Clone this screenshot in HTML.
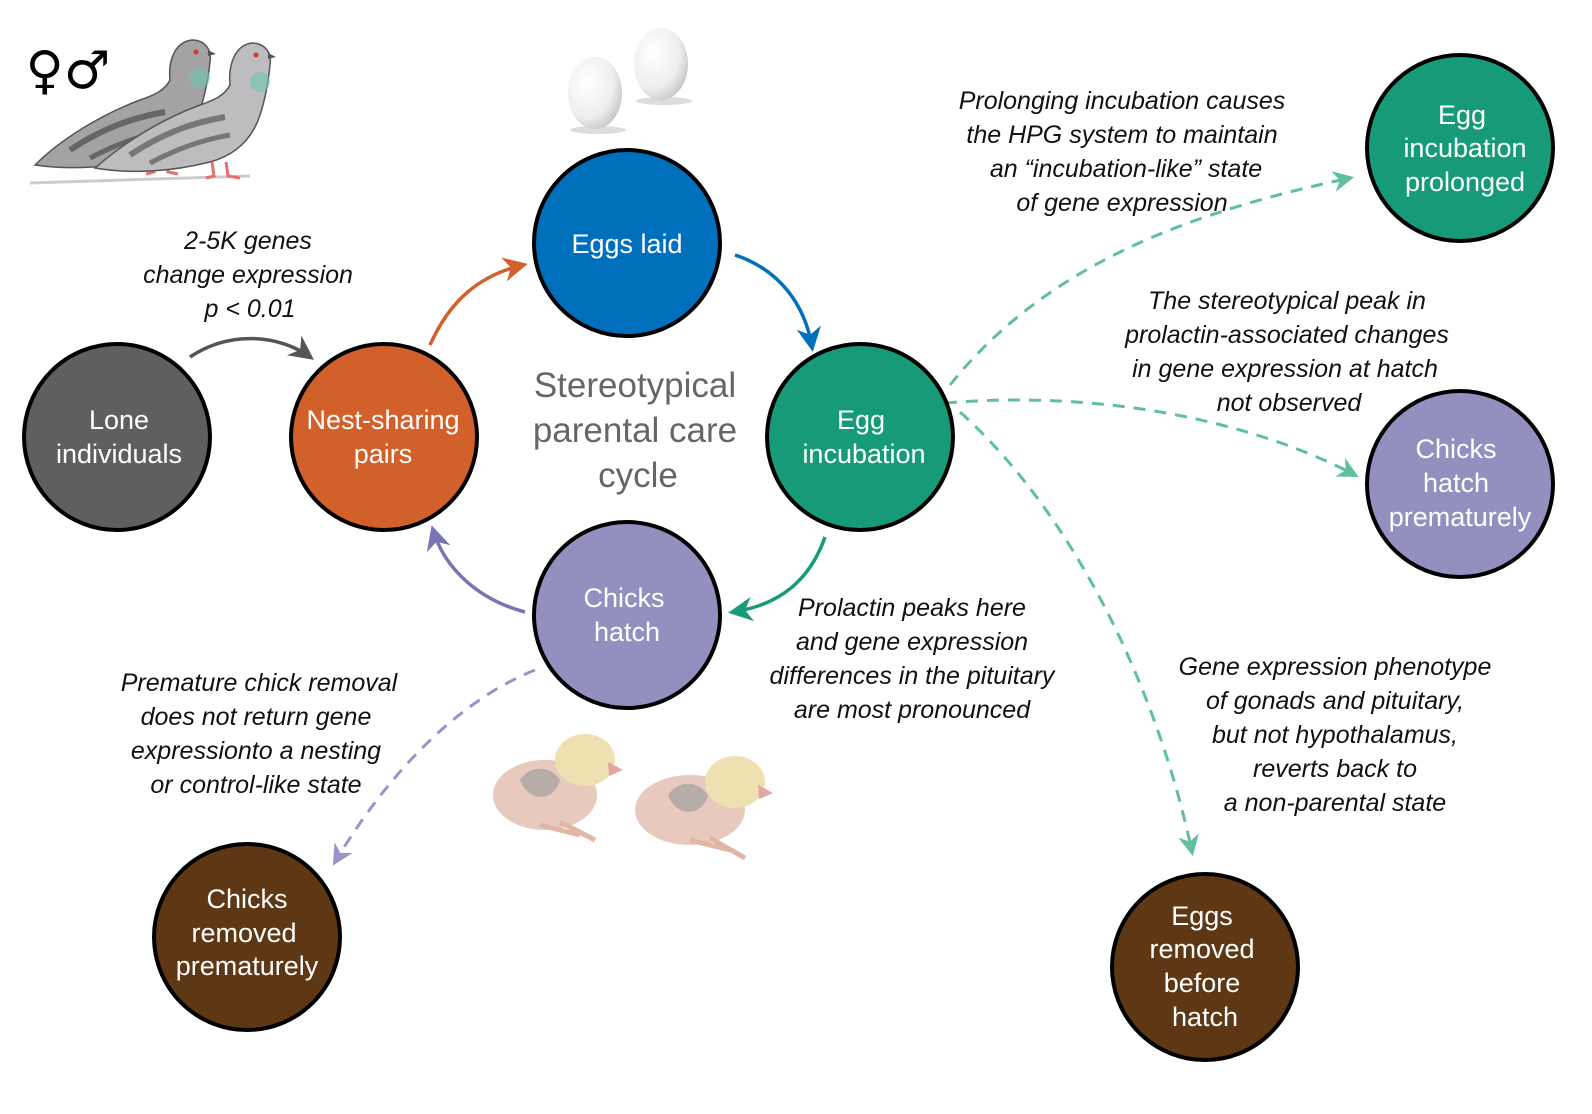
<!DOCTYPE html>
<html><head><meta charset="utf-8"><style>
html,body{margin:0;padding:0;background:#fff}
svg{display:block}
.c{stroke:#000;stroke-width:4}
.ct{fill:#fff;font-family:"Liberation Sans",sans-serif;font-size:27px;text-anchor:middle}
.an{fill:#111;font-family:"Liberation Sans",sans-serif;font-style:italic;font-size:25px;text-anchor:middle}
</style></head><body>
<svg width="1592" height="1114" viewBox="0 0 1592 1114">
<defs>
<marker id="aG" viewBox="0 0 10 10" refX="8" refY="5" markerWidth="7" markerHeight="7" orient="auto"><path d="M0,0L10,5L0,10L3,5z" fill="#555"/></marker>
<marker id="aO" viewBox="0 0 10 10" refX="8" refY="5" markerWidth="7" markerHeight="7" orient="auto"><path d="M0,0L10,5L0,10L3,5z" fill="#d2602a"/></marker>
<marker id="aB" viewBox="0 0 10 10" refX="8" refY="5" markerWidth="7" markerHeight="7" orient="auto"><path d="M0,0L10,5L0,10L3,5z" fill="#0070bc"/></marker>
<marker id="aT" viewBox="0 0 10 10" refX="8" refY="5" markerWidth="7" markerHeight="7" orient="auto"><path d="M0,0L10,5L0,10L3,5z" fill="#179a78"/></marker>
<marker id="aP" viewBox="0 0 10 10" refX="8" refY="5" markerWidth="7" markerHeight="7" orient="auto"><path d="M0,0L10,5L0,10L3,5z" fill="#7a74b4"/></marker>
<marker id="aL" viewBox="0 0 10 10" refX="8" refY="5" markerWidth="7" markerHeight="7" orient="auto"><path d="M0,0L10,5L0,10L3,5z" fill="#5fbf9f"/></marker>
<marker id="aV" viewBox="0 0 10 10" refX="8" refY="5" markerWidth="7" markerHeight="7" orient="auto"><path d="M0,0L10,5L0,10L3,5z" fill="#9a94c8"/></marker>
<radialGradient id="egg" cx="35%" cy="35%" r="70%"><stop offset="0" stop-color="#ffffff"/><stop offset="0.7" stop-color="#eeeeee"/><stop offset="1" stop-color="#c9c9c9"/></radialGradient>
</defs>

<!-- pigeons -->
<g>
<path d="M30,183 L250,176" stroke="#ccc" stroke-width="3"/>
<g>
<path d="M35,165 C60,140 100,115 140,100 C155,95 165,90 170,80 C168,60 175,42 192,40 C205,40 212,50 210,62 C208,80 205,95 200,110 C192,135 175,150 150,158 C110,168 70,170 35,165z" fill="#a3a3a6" stroke="#555" stroke-width="1.5"/>
<path d="M70,150 C100,130 130,118 165,112" stroke="#666" stroke-width="6" fill="none"/>
<path d="M90,158 C115,145 140,135 170,130" stroke="#666" stroke-width="5" fill="none"/>
<circle cx="200" cy="78" r="10" fill="#6cc7b0" opacity=".6"/>
<circle cx="196" cy="52" r="2.5" fill="#d33"/>
<path d="M208,50 l8,4 l-8,2z" fill="#555"/>
<path d="M152,158 l2,14 l-8,2 M166,158 l2,14 l10,2" stroke="#e87070" stroke-width="3" fill="none"/>
</g>
<g>
<path d="M95,168 C125,142 160,120 200,105 C215,100 225,95 230,85 C228,65 235,45 252,43 C265,43 272,53 270,65 C268,85 265,100 260,115 C252,140 235,155 210,162 C170,172 130,174 95,168z" fill="#bdbdc0" stroke="#555" stroke-width="1.5"/>
<path d="M130,155 C160,135 190,123 225,117" stroke="#777" stroke-width="6" fill="none"/>
<path d="M150,163 C175,150 200,140 230,135" stroke="#777" stroke-width="5" fill="none"/>
<circle cx="260" cy="82" r="10" fill="#6cc7b0" opacity=".6"/>
<circle cx="256" cy="55" r="2.5" fill="#d33"/>
<path d="M268,53 l8,4 l-8,2z" fill="#555"/>
<path d="M212,162 l2,14 l-8,2 M226,162 l2,14 l12,2" stroke="#e87070" stroke-width="3" fill="none"/>
</g>
</g>
<text x="68" y="88" font-family="DejaVu Sans,sans-serif" font-size="52" text-anchor="middle" fill="#000">♀♂</text>

<!-- eggs -->
<g>
<ellipse cx="598" cy="130" rx="28" ry="4" fill="#ddd"/>
<ellipse cx="664" cy="101" rx="28" ry="4" fill="#ddd"/>
<ellipse cx="595" cy="93" rx="27" ry="36" fill="url(#egg)"/>
<ellipse cx="661" cy="64" rx="27" ry="36" fill="url(#egg)"/>
</g>

<!-- chicks -->
<g>
<ellipse cx="545" cy="795" rx="52" ry="35" fill="#e7c9bd"/>
<path d="M520,780 c10,-15 30,-15 40,0 c-5,20 -30,25 -40,0z" fill="#999" opacity=".6"/>
<ellipse cx="585" cy="760" rx="30" ry="26" fill="#efe0b2"/>
<path d="M608,762 l15,8 l-14,6z" fill="#e6a5a0"/>
<path d="M540,825 l40,10 M560,822 l35,18" stroke="#e3b5a5" stroke-width="5"/>
<ellipse cx="690" cy="810" rx="55" ry="35" fill="#e7c9bd"/>
<path d="M668,795 c10,-15 30,-15 40,0 c-5,20 -30,25 -40,0z" fill="#999" opacity=".6"/>
<ellipse cx="735" cy="782" rx="30" ry="26" fill="#efe0b2"/>
<path d="M758,785 l15,8 l-14,6z" fill="#e6a5a0"/>
<path d="M690,840 l40,10 M710,838 l35,20" stroke="#e3b5a5" stroke-width="5"/>
</g>

<!-- arrows -->
<path d="M190,357 C230,330 280,335 310,357" fill="none" stroke="#555" stroke-width="3.5" marker-end="url(#aG)"/>
<path d="M430,345 C450,300 480,275 523,265" fill="none" stroke="#d2602a" stroke-width="3.5" marker-end="url(#aO)"/>
<path d="M735,255 C780,270 805,305 812,347" fill="none" stroke="#0070bc" stroke-width="3.5" marker-end="url(#aB)"/>
<path d="M825,537 C810,580 780,605 733,612" fill="none" stroke="#179a78" stroke-width="3.5" marker-end="url(#aT)"/>
<path d="M525,612 C480,600 445,570 433,530" fill="none" stroke="#7a74b4" stroke-width="3.5" marker-end="url(#aP)"/>
<g fill="none" stroke="#5fbf9f" stroke-width="3" stroke-dasharray="12,9">
<path d="M950,385 C1050,260 1200,210 1350,178" marker-end="url(#aL)"/>
<path d="M945,403 C1100,390 1250,420 1355,475" marker-end="url(#aL)"/>
<path d="M960,412 C1080,520 1160,700 1192,852" marker-end="url(#aL)"/>
</g>
<path d="M535,670 C460,700 390,770 335,862" fill="none" stroke="#9a94c8" stroke-width="3" stroke-dasharray="12,9" marker-end="url(#aV)"/>

<!-- nodes -->
<g><circle class="c" cx="117" cy="437" r="93" fill="#5f5f5f"/><text class="ct" x="119" y="429">Lone</text><text class="ct" x="119" y="463">individuals</text></g>
<g><circle class="c" cx="384" cy="437" r="93" fill="#d2602a"/><text class="ct" x="383" y="429">Nest-sharing</text><text class="ct" x="383" y="463">pairs</text></g>
<g><circle class="c" cx="627" cy="243" r="93" fill="#0070bc"/><text class="ct" x="627" y="253">Eggs laid</text></g>
<g><circle class="c" cx="860" cy="437" r="93" fill="#179a78"/><text class="ct" x="861" y="429">Egg</text><text class="ct" x="864" y="463">incubation</text></g>
<g><circle class="c" cx="627" cy="615" r="93" fill="#9390c0"/><text class="ct" x="624" y="607">Chicks</text><text class="ct" x="627" y="641">hatch</text></g>
<g><circle class="c" cx="1460" cy="148" r="93" fill="#179a78"/><text class="ct" x="1462" y="124">Egg</text><text class="ct" x="1465" y="157">incubation</text><text class="ct" x="1465" y="191">prolonged</text></g>
<g><circle class="c" cx="1460" cy="484" r="93" fill="#9390c0"/><text class="ct" x="1456" y="458">Chicks</text><text class="ct" x="1456" y="492">hatch</text><text class="ct" x="1460" y="526">prematurely</text></g>
<g><circle class="c" cx="247" cy="937" r="93" fill="#5e3714"/><text class="ct" x="247" y="908">Chicks</text><text class="ct" x="244" y="942">removed</text><text class="ct" x="247" y="975">prematurely</text></g>
<g><circle class="c" cx="1205" cy="967" r="93" fill="#5e3714"/><text class="ct" x="1202" y="925">Eggs</text><text class="ct" x="1202" y="958">removed</text><text class="ct" x="1202" y="992">before</text><text class="ct" x="1205" y="1026">hatch</text></g>

<!-- center title -->
<g font-family="Liberation Sans,sans-serif" font-size="35" fill="#666" text-anchor="middle">
<text x="635" y="397">Stereotypical</text><text x="635" y="442">parental care</text><text x="638" y="487">cycle</text></g>

<!-- annotations -->
<g><text class="an" x="248" y="249">2-5K genes</text><text class="an" x="248" y="283">change expression</text><text class="an" x="250" y="317">p &lt; 0.01</text></g>
<g><text class="an" x="1122" y="109">Prolonging incubation causes</text><text class="an" x="1122" y="143">the HPG system to maintain</text><text class="an" x="1126" y="177">an “incubation-like” state</text><text class="an" x="1122" y="211">of gene expression</text></g>
<g><text class="an" x="1287" y="309">The stereotypical peak in</text><text class="an" x="1287" y="343">prolactin-associated changes</text><text class="an" x="1285" y="377">in gene expression at hatch</text><text class="an" x="1289" y="411">not observed</text></g>
<g><text class="an" x="912" y="616">Prolactin peaks here</text><text class="an" x="912" y="650">and gene expression</text><text class="an" x="912" y="684">differences in the pituitary</text><text class="an" x="912" y="718">are most pronounced</text></g>
<g><text class="an" x="259" y="691">Premature chick removal</text><text class="an" x="256" y="725">does not return gene</text><text class="an" x="256" y="759">expressionto a nesting</text><text class="an" x="256" y="793">or control-like state</text></g>
<g><text class="an" x="1335" y="675">Gene expression phenotype</text><text class="an" x="1335" y="709">of gonads and pituitary,</text><text class="an" x="1335" y="743">but not hypothalamus,</text><text class="an" x="1335" y="777">reverts back to</text><text class="an" x="1335" y="811">a non-parental state</text></g>
</svg>
</body></html>
